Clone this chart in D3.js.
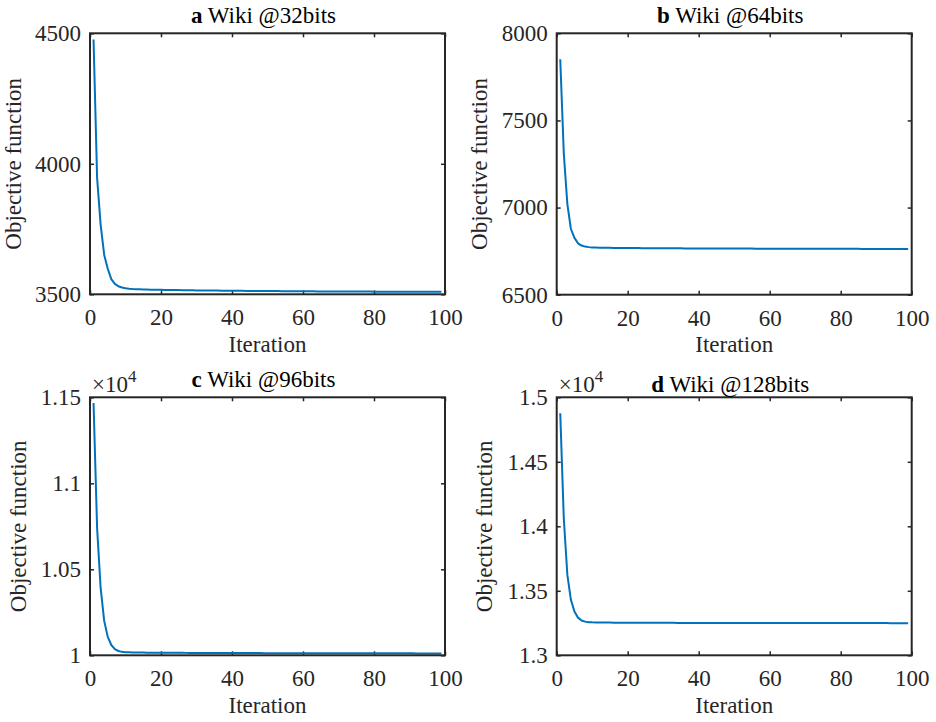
<!DOCTYPE html>
<html>
<head>
<meta charset="utf-8">
<script src="https://cdn.jsdelivr.net/npm/d3@7"></script>
<style>
  body { margin: 0; background: #fff; }
  text { font-family: "Liberation Serif", "Times New Roman", serif; }
</style>
</head>
<body>
<div id="chart"></div>
<script>

// objective value per iteration (iterations 1..99)
var wiki32 = [
  4476, 3946, 3766, 3651, 3598, 3558, 3540, 3531, 3526, 3523,
  3521.5, 3520.5, 3519.8, 3519.2, 3518.7, 3518.3, 3517.9, 3517.6, 3517.3, 3517.0,
  3516.8, 3516.6, 3516.4, 3516.2, 3516.0, 3515.8, 3515.6, 3515.4, 3515.2, 3515.0,
  3514.8, 3514.7, 3514.5, 3514.4, 3514.2, 3514.1, 3513.9, 3513.8, 3513.6, 3513.5,
  3513.4, 3513.3, 3513.2, 3513.1, 3513.0, 3512.9, 3512.8, 3512.7, 3512.6, 3512.5,
  3512.4, 3512.3, 3512.2, 3512.1, 3512.0, 3511.9, 3511.8, 3511.7, 3511.6, 3511.5,
  3511.4, 3511.3, 3511.3, 3511.2, 3511.1, 3511.0, 3511.0, 3510.9, 3510.8, 3510.8,
  3510.7, 3510.6, 3510.6, 3510.5, 3510.5, 3510.4, 3510.4, 3510.3, 3510.3, 3510.2,
  3510.2, 3510.1, 3510.1, 3510.0, 3510.0, 3509.9, 3509.9, 3509.8, 3509.8, 3509.7,
  3509.7, 3509.6, 3509.6, 3509.5, 3509.5, 3509.4, 3509.4, 3509.3, 3509.3
];

var wiki64 = [
  7851, 7310, 7020, 6877, 6826, 6795, 6782, 6776, 6773, 6771.5,
  6770.6, 6770.0, 6769.6, 6769.2, 6768.9, 6768.6, 6768.4, 6768.2, 6768.0, 6767.8,
  6767.6, 6767.5, 6767.3, 6767.2, 6767.0, 6766.9, 6766.8, 6766.6, 6766.5, 6766.4,
  6766.3, 6766.2, 6766.1, 6766.0, 6765.9, 6765.8, 6765.7, 6765.6, 6765.5, 6765.4,
  6765.3, 6765.3, 6765.2, 6765.1, 6765.0, 6765.0, 6764.9, 6764.8, 6764.8, 6764.7,
  6764.6, 6764.6, 6764.5, 6764.5, 6764.4, 6764.3, 6764.3, 6764.2, 6764.2, 6764.1,
  6764.1, 6764.0, 6764.0, 6763.9, 6763.9, 6763.8, 6763.8, 6763.7, 6763.7, 6763.6,
  6763.6, 6763.5, 6763.5, 6763.4, 6763.4, 6763.3, 6763.3, 6763.3, 6763.2, 6763.2,
  6763.1, 6763.1, 6763.0, 6763.0, 6763.0, 6762.9, 6762.9, 6762.8, 6762.8, 6762.8,
  6762.7, 6762.7, 6762.6, 6762.6, 6762.6, 6762.5, 6762.5, 6762.4, 6762.4
];

var wiki96 = [
  11467, 10740, 10390, 10200, 10107, 10060, 10036, 10025, 10020, 10018,
  10017.2, 10016.7, 10016.3, 10016.0, 10015.7, 10015.5, 10015.3, 10015.1, 10014.9, 10014.8,
  10014.7, 10014.6, 10014.5, 10014.4, 10014.3, 10014.2, 10014.1, 10014.0, 10013.9, 10013.8,
  10013.7, 10013.6, 10013.6, 10013.5, 10013.4, 10013.4, 10013.3, 10013.2, 10013.2, 10013.1,
  10013.0, 10013.0, 10012.9, 10012.9, 10012.8, 10012.8, 10012.7, 10012.7, 10012.6, 10012.6,
  10012.5, 10012.5, 10012.4, 10012.4, 10012.4, 10012.3, 10012.3, 10012.2, 10012.2, 10012.2,
  10012.1, 10012.1, 10012.0, 10012.0, 10012.0, 10011.9, 10011.9, 10011.9, 10011.8, 10011.8,
  10011.8, 10011.7, 10011.7, 10011.7, 10011.6, 10011.6, 10011.6, 10011.5, 10011.5, 10011.5,
  10011.4, 10011.4, 10011.4, 10011.4, 10011.3, 10011.3, 10011.3, 10011.2, 10011.2, 10011.2,
  10011.2, 10011.1, 10011.1, 10011.1, 10011.0, 10011.0, 10011.0, 10011.0, 10010.9
];

var wiki128 = [
  14876, 14060, 13623, 13430, 13340, 13292, 13270, 13261, 13257, 13255.5,
  13254.8, 13254.3, 13253.9, 13253.6, 13253.3, 13253.1, 13252.9, 13252.7, 13252.5, 13252.4,
  13252.3, 13252.2, 13252.1, 13252.0, 13251.9, 13251.8, 13251.8, 13251.7, 13251.6, 13251.6,
  13251.5, 13251.4, 13251.4, 13251.3, 13251.3, 13251.2, 13251.2, 13251.1, 13251.1, 13251.0,
  13251.0, 13250.9, 13250.9, 13250.9, 13250.8, 13250.8, 13250.7, 13250.7, 13250.7, 13250.6,
  13250.6, 13250.6, 13250.5, 13250.5, 13250.5, 13250.4, 13250.4, 13250.4, 13250.3, 13250.3,
  13250.3, 13250.2, 13250.2, 13250.2, 13250.2, 13250.1, 13250.1, 13250.1, 13250.0, 13250.0,
  13250.0, 13250.0, 13249.9, 13249.9, 13249.9, 13249.9, 13249.8, 13249.8, 13249.8, 13249.8,
  13249.7, 13249.7, 13249.7, 13249.7, 13249.6, 13249.6, 13249.6, 13249.6, 13249.5, 13249.5,
  13249.5, 13249.5, 13249.5, 13249.4, 13249.4, 13249.4, 13249.4, 13249.3, 13249.3
];

// titles
var titleLetters = ["a", "b", "c", "d"];
var titleTexts = [" Wiki @32bits", " Wiki @64bits", " Wiki @96bits", " Wiki @128bits"];

// ticks
var xTicks = [0, 20, 40, 60, 80, 100];
var yTicks32 = [3500, 4000, 4500];
var yTicks64 = [6500, 7000, 7500, 8000];
var yTicks96 = [10000, 10500, 11000, 11500];
var yTickLabels96 = ["1", "1.05", "1.1", "1.15"];
var yTicks128 = [13000, 13500, 14000, 14500, 15000];
var yTickLabels128 = ["1.3", "1.35", "1.4", "1.45", "1.5"];

var xLabel = "Iteration";
var yLabel = "Objective function";

var svgWidth = 936;
var svgHeight = 722;
var axisColor = "#262626";
var lineColor = "#0072BD";
var fontSize = 23;
var tickLen = 4;

var svg = d3.select("#chart")
  .append("svg")
  .attr("width", svgWidth)
  .attr("height", svgHeight);

// panel layout (pixel boxes of each axes)
var panels = [
  { values: wiki32, yTicks: yTicks32, yLabels: null, exp: false,
    left: 90, top: 33.3, width: 355, height: 261, titleY: 23, ylabOff: 69, xlabY: 352 },
  { values: wiki64, yTicks: yTicks64, yLabels: null, exp: false,
    left: 556.7, top: 33.3, width: 355, height: 261.4, titleY: 23, ylabOff: 69.5, xlabY: 352 },
  { values: wiki96, yTicks: yTicks96, yLabels: yTickLabels96, exp: true,
    left: 90, top: 397.3, width: 355, height: 258, titleY: 386.7, ylabOff: 64, xlabY: 713 },
  { values: wiki128, yTicks: yTicks128, yLabels: yTickLabels128, exp: true,
    left: 556.7, top: 397.3, width: 355, height: 258, titleY: 391.5, ylabOff: 64.5, xlabY: 713 }
];

panels.forEach(function(p, idx) {
  var g = svg.append("g")
    .attr("transform", `translate(${p.left}, ${p.top})`);

  var x = d3.scaleLinear().domain([0, 100]).range([0, p.width]);
  var y = d3.scaleLinear()
    .domain([p.yTicks[0], p.yTicks[p.yTicks.length - 1]])
    .range([p.height, 0]);

  var fmt = function(d, i) { return p.yLabels ? p.yLabels[i] : d; };

  // bottom axis with labels, ticks inside
  var bottom = g.append("g")
    .attr("transform", `translate(0, ${p.height})`)
    .call(d3.axisBottom(x).tickValues(xTicks).tickSizeInner(-tickLen).tickSizeOuter(0).tickPadding(14.7));

  // left axis with labels
  var left = g.append("g")
    .call(d3.axisLeft(y).tickValues(p.yTicks).tickFormat(fmt).tickSizeInner(-tickLen).tickSizeOuter(0).tickPadding(9));

  // mirrored ticks on top and right
  var top = g.append("g")
    .call(d3.axisTop(x).tickValues(xTicks).tickFormat("").tickSizeInner(-tickLen).tickSizeOuter(0));
  var right = g.append("g")
    .attr("transform", `translate(${p.width}, 0)`)
    .call(d3.axisRight(y).tickValues(p.yTicks).tickFormat("").tickSizeInner(-tickLen).tickSizeOuter(0));

  [bottom, left, top, right].forEach(function(ax) {
    ax.select(".domain").remove();
    ax.selectAll("line").attr("stroke", axisColor).attr("stroke-width", 1.5);
    ax.selectAll("text")
      .attr("fill", axisColor)
      .style("font-size", fontSize + "px")
      .style("font-family", '"Liberation Serif", "Times New Roman", serif');
  });

  // the curve
  var line = d3.line()
    .x(function(d, i) { return x(i + 1); })
    .y(function(d) { return y(d); });

  g.append("path")
    .datum(p.values)
    .attr("d", line)
    .attr("fill", "none")
    .attr("stroke", lineColor)
    .attr("stroke-width", 2)
    .attr("stroke-linejoin", "round");

  // box
  g.append("rect")
    .attr("width", p.width)
    .attr("height", p.height)
    .attr("fill", "none")
    .attr("stroke", axisColor)
    .attr("stroke-width", 2);

  // title
  var title = svg.append("text")
    .attr("x", p.left + p.width / 2 - 4)
    .attr("y", p.titleY)
    .attr("text-anchor", "middle")
    .attr("fill", "#000")
    .style("font-size", fontSize + "px");
  title.append("tspan").attr("font-weight", "bold").text(titleLetters[idx]);
  title.append("tspan").text(titleTexts[idx]);

  // x label
  svg.append("text")
    .attr("x", p.left + p.width / 2)
    .attr("y", p.xlabY)
    .attr("text-anchor", "middle")
    .attr("fill", axisColor)
    .style("font-size", fontSize + "px")
    .text(xLabel);

  // y label
  svg.append("text")
    .attr("transform", `translate(${p.left - p.ylabOff}, ${p.top + p.height / 2}) rotate(-90)`)
    .attr("text-anchor", "middle")
    .attr("fill", axisColor)
    .style("font-size", fontSize + "px")
    .text(yLabel);

  // exponent label
  if (p.exp) {
    var ex = svg.append("text")
      .attr("x", p.left + 2)
      .attr("y", p.top - 5)
      .attr("fill", axisColor)
      .style("font-size", fontSize + "px");
    ex.append("tspan").text("\u00d710");
    ex.append("tspan")
      .attr("dy", -10)
      .style("font-size", "17px")
      .text("4");
  }
});

</script>
</body>
</html>
